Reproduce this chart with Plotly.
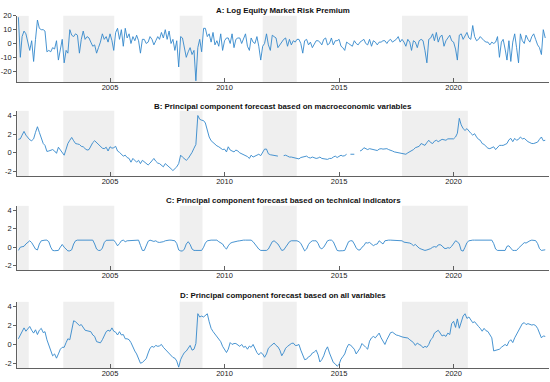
import plotly.graph_objects as go
import pandas as pd

# ---------------- data ----------------
START_MONTH = "2001-01-01"
N_MONTHS = 277
dates = pd.date_range(START_MONTH, periods=N_MONTHS, freq="MS")

equity_premium = [
    19, -10, 5, 9, 7, 0, -5, 2, -13, 3, 17, 11,
    10, 10, 9, -6, -5, -6, -3, -4, 2, -12, -4, 3,
    -14, -5, -7, 10, 6, 5, 7, 6, -7, 3, 9, 3,
    5, 4, 1, -2, -1, -7, -3, 1, 7, 3, 5, 1,
    7, 2, -5, 8, 11, 3, 10, -2, 11, 4, 7, 0,
    5, 2, 6, 2, -7, 3, 3, 0, 1, 5, 3, -1,
    2, 5, 3, 8, 4, 10, 3, 9, 0, 3, -5, 2,
    -17, 5, 4, -3, -10, -6, -3, -8, -5, -27, -3, 3,
    -6, 11, 11, 5, 7, 1, 8, -1, 2, -2, 7, -5,
    2, 4, 4, 0, 7, -3, 3, 4, 4, 0, 3, 7,
    -2, -5, 4, 1, 0, 5, -2, -12, -2, 0, 7, -1,
    -5, 6, 5, 4, -3, -1, 1, 3, 4, -2, 3, -1,
    2, 1, 3, 3, 0, -7, 2, 3, -1, 1, -3, 0,
    2, 2, 1, -1, 3, 4, -1, 0, 4, -1, 2, 2,
    3, -2, -3, -5, 1, 0, -1, -2, 2, 0, -1, 1,
    2, 3, 0, -1, 3, -2, 2, 1, -1, 1, 1, 2,
    2, 0, 2, 3, 1, 2, 3, 5, 1, 3, 1, -2,
    3, 1, -5, 2, 1, -3, 2, 3, 2, -5, -14, 3,
    4, 7, 2, 8, 1, 5, 6, -2, 2, 4, 6, 2,
    1, -4, -12, 6, 7, 3, 5, 8, 4, 3, 13, 5,
    2, 3, 5, 3, 2, 1, 1, -1, 1, 0, 1, 5,
    -10, 1, 3, -4, -12, 2, -13, 1, 7, -3, -14, 7,
    2, 0, 6, 3, 1, 5, 7, 3, -1, -3, -8, 10, 4,
]

macro_pc = [
    1.45, 1.5, 1.9, 2.3, 1.9, 1.6, 1.4, 1.3, 1.5, 2.2, 2.8, 2.2,
    1.6, 1.0, 0.8, 0.15, 0.2, 0.25, 0.35, 0.2, -0.05, 0.6, 0.3, 0.1,
    -0.25, 0.4, 1.0, 1.35, 1.65, 1.3, 1.0, 0.95, 0.9, 0.7, 0.65, 0.45,
    0.3, 0.35, 0.75, 1.1, 1.3, 1.1, 0.8, 0.7, 0.5, 0.45, 0.6, 0.2,
    0.65, 0.5, 0.55, 0.7, 0.2, 0.05, -0.15, -0.35, -0.25, -0.5, -0.6, -1.0,
    -0.6, -0.8, -1.0, -0.8, -1.15, -0.8, -1.0, -1.15, -1.3, -1.1, -0.9, -0.6,
    -0.9, -1.1, -1.15, -1.35, -1.5, -1.15, -1.3, -1.5, -1.7, -1.9, -1.7, -1.5,
    -1.15, -0.25, -0.45, -0.6, -0.8, -0.6, -0.3, 0.05, 0.5, 0.9, 4.0, 3.6,
    3.5, 3.45, 3.2, 2.5, 1.7, 1.3, 1.1, 0.95, 0.75, 0.65, 0.5, 0.35,
    0.4, 0.1, 0.65, 0.3, 0.2, 0.1, 0.3, 0.2, 0.0, -0.1, -0.2, -0.25,
    -0.4, -0.6, -0.25, -0.45, -0.35, -0.3, -0.15, -0.3, 0.1, 0.4, 0.4, -0.1,
    -0.2, -0.25, -0.25, -0.3, -0.35, None, None, -0.3, -0.25, -0.35, -0.45, -0.45,
    -0.5, -0.55, -0.6, -0.65, -0.5, -0.45, -0.4, -0.35, -0.5, -0.55, -0.45, -0.5,
    -0.6, -0.55, -0.45, -0.6, -0.65, -0.7, -0.7, -0.6, -0.6, -0.45, -0.35, -0.5,
    -0.35, -0.25, -0.35, -0.3, -0.15, None, -0.15, -0.15, -0.15, None, None, 0.2,
    0.3, 0.55, 0.45, 0.35, 0.45, 0.4, 0.35, 0.3, 0.25, 0.4, 0.45, 0.4,
    0.45, 0.45, 0.35, 0.3, 0.2, 0.1, 0.05, 0.0, -0.05, -0.05, -0.1, -0.15,
    0.0, 0.1, 0.2, 0.35, 0.55, 0.65, 0.7, 1.0, 0.9, 0.8, 1.1, 1.35,
    1.1, 1.0, 1.25, 1.35, 1.2, 1.3, 1.45, 1.4, 1.35, 1.5, 1.5, 1.45,
    1.5, 1.7, 2.1, 3.7, 3.0, 2.6, 2.4, 2.6, 2.3, 2.1, 1.9, 2.05,
    1.7, 1.45, 1.35, 1.0, 0.9, 0.65, 0.5, 0.45, 0.6, 0.65, 0.35, 0.6,
    0.8, 0.8, 0.8, 0.9, 1.0, 1.4, 1.55, 1.2, 1.55, 1.35, 1.45, 1.7,
    1.5, 1.55, 1.35, 1.2, 1.1, 1.0, 1.0, 1.05, 1.15, 1.45, 1.7, 1.3, 1.35,
]

tech_pc = [
    -0.35, 0.0, 0.05, 0.1, 0.35, 0.5, 0.7, 0.5, 0.2, -0.2, -0.3, 0.35,
    0.7, 0.77, 0.77, 0.77, 0.6, 0.0, -0.35, -0.38, -0.4, -0.35, 0.0, 0.3,
    0.0, -0.28, -0.4, -0.4, -0.28, 0.35, 0.7, 0.77, 0.77, 0.77, 0.77, 0.77,
    0.77, 0.77, 0.77, 0.77, 0.35, -0.2, -0.35, -0.35, -0.1, 0.5, 0.75, 0.77,
    0.77, 0.77, 0.77, 0.5, 0.15, 0.4, 0.7, 0.77, 0.6, 0.7, 0.7, 0.7,
    0.75, 0.77, 0.77, 0.77, 0.2, -0.35, -0.35, 0.2, 0.65, 0.77, 0.7, 0.63,
    0.7, 0.55, 0.52, 0.52, 0.6, 0.7, 0.77, 0.77, 0.77, 0.77, 0.7, 0.4,
    -0.3, -0.4, -0.42, -0.2, 0.35, 0.6, 0.3, -0.2, -0.35, -0.35, -0.35, -0.35,
    -0.35, 0.0, 0.45, 0.7, 0.77, 0.77, 0.77, 0.77, 0.77, 0.6, 0.45, 0.35,
    0.0, -0.2, 0.15, 0.42, 0.52, 0.6, 0.63, 0.67, 0.7, 0.77, 0.77, 0.77,
    0.77, 0.77, 0.77, 0.6, 0.3, 0.0, -0.2, -0.35, -0.35, -0.35, -0.35, -0.2,
    0.3, 0.6, 0.7, 0.5, 0.35, 0.0, -0.35, -0.3, 0.0, 0.2, 0.6, 0.7,
    0.7, 0.7, 0.7, 0.6, 0.42, 0.0, -0.4, -0.2, 0.3, 0.55, 0.7, 0.7,
    0.7, 0.4, -0.05, -0.17, 0.0, 0.35, 0.7, 0.77, 0.77, 0.6, 0.2, -0.35,
    -0.4, -0.42, -0.38, -0.35, 0.2, 0.6, 0.7, 0.7, 0.35, -0.07, -0.3, -0.3,
    0.0, 0.17, 0.5, 0.45, 0.52, 0.3, 0.17, 0.3, 0.35, 0.7, 0.5, 0.35,
    0.7, 0.77, 0.77, 0.77, 0.77, 0.77, 0.77, 0.77, 0.77, 0.7, 0.55, 0.52,
    0.52, 0.45, 0.35, 0.17, 0.3, 0.05, -0.1, -0.2, -0.3, -0.35, -0.3, -0.25,
    -0.15, 0.0, 0.07, 0.0, 0.25, 0.28, 0.15, -0.1, -0.15, -0.05, -0.1, 0.1,
    0.45, 0.7, 0.6, 0.35, -0.35, -0.42, 0.0, 0.5, 0.7, 0.77, 0.77, 0.77,
    0.77, 0.77, 0.77, 0.77, 0.77, 0.77, 0.77, 0.77, 0.77, 0.4, -0.2, -0.35,
    -0.35, -0.35, -0.35, -0.35, 0.1, 0.15, -0.1, -0.35, -0.35, -0.35, -0.1, 0.1,
    0.35, 0.5, 0.45, 0.6, 0.7, 0.77, 0.77, 0.72, 0.4, -0.15, -0.35, -0.3, -0.28,
]

all_pc = [
    0.6, 1.0, 1.3, 1.75, 1.4, 1.65, 1.9, 1.5, 1.2, 1.55, 1.05, 1.5,
    1.7, 1.25, 1.35, 0.5, 0.0, -0.5, -1.2, -1.0, -1.45, -1.0, -0.5, -0.3,
    -0.3, 0.2, 0.6, 0.5, 1.5, 2.5, 2.4, 2.2, 2.0, 2.1, 1.75, 1.5,
    1.45, 1.4, 1.35, 1.0, 0.85, 0.3, 0.27, 0.17, 0.5, 1.0, 1.35, 1.5,
    1.4, 1.75, 1.4, 1.3, 1.0, 1.35, 1.0, 1.05, 0.6, 0.6, 0.5, 0.2,
    -0.3, -0.7, -1.0, -1.5, -1.98, -1.9, -1.71, -1.5, -0.9, -0.4, -0.2, -0.3,
    -0.1, -0.2, -0.15, 0.0, -0.3, -0.5, -0.7, -0.9, -1.1, -1.37, -1.45, -1.75,
    -2.4, -1.6, -1.2, -0.85, -0.7, -0.35, -0.1, -0.6, -0.5, 0.1, 3.25, 2.9,
    3.0, 2.9, 3.1, 3.24, 2.4, 1.7, 1.37, 1.1, 0.75, 0.5, 0.3, -0.2,
    -0.6, -0.85, -0.5, 0.2, 0.0, 0.1, 0.1, -0.1, -0.2, 0.0, -0.3, -0.2,
    -0.5, -0.17, -0.3, 0.0, -0.5, -0.85, -1.1, -0.85, -1.0, -1.35, -1.0, -0.4,
    -0.2, 0.0, 0.15, -0.1, -0.25, -0.6, -1.19, -0.85, -0.4, -0.2, 0.0, 0.1,
    0.15, -0.1, -0.1, 0.0, -0.6, -1.1, -1.6, -1.55, -1.3, -1.2, -0.9, -0.8,
    -0.6, -1.1, -1.85, -1.6, -1.2, -0.6, -0.25, -0.9, -1.5, -1.9, -2.05, -2.3,
    -2.1, -1.55, -1.3, -1.0, -0.4, 0.0, -0.05, -0.3, -0.5, -1.0, -0.7, -0.4,
    0.1, -0.15, -0.3, -0.5, 0.35, 0.7, 0.85, 0.7, 1.0, 1.2, 0.7, 0.3,
    0.0, 0.5, 0.9, 1.25, 1.3, 1.1, 1.0, 0.95, 0.85, 0.8, 0.75, 0.7,
    0.68, 0.5, 0.34, 0.2, -0.1, 0.15, 0.0, -0.1, -0.35, -0.2, -0.3, 0.0,
    0.5, 0.7, 1.2, 1.4, 1.5, 1.2, 0.9, 1.0, 0.85, 1.2, 1.05, 2.2,
    2.45, 1.8, 2.7, 1.71, 2.5, 3.0, 3.24, 2.75, 2.9, 2.6, 2.3, 2.4,
    2.2, 1.9, 1.7, 1.4, 1.7, 1.45, 1.37, 1.1, 0.7, -0.68, -0.6, -0.6,
    -0.5, -0.3, -0.17, 0.0, -0.15, 0.3, 0.5, 0.2, 0.7, 1.1, 1.35, 1.9,
    2.2, 2.3, 2.1, 2.2, 2.1, 2.05, 2.1, 2.0, 1.7, 1.2, 0.7, 0.9, 0.85,
]

shade_start = ["2000-12-15", "2002-12-18", "2008-01-18", "2011-09-01", "2017-10-01"]
shade_end = ["2001-06-15", "2005-03-10", "2009-01-15", "2013-02-25", "2020-08-15"]

panel_titles = [
    "A: Log Equity Market Risk Premium",
    "B: Principal component forecast based on macroeconomic variables",
    "C: Principal component forecast based on technical indicators",
    "D: Principal component forecast based on all variables",
]
year_ticks = ["2005", "2010", "2015", "2020"]
yticks_a = [-20, -10, 0, 10, 20]
yticks_pc = [-2, 0, 2, 4]
yrange_a = [-28, 20]
yrange_pc = [-2.5, 4.5]

series = [equity_premium, macro_pc, tech_pc, all_pc]
for s in series:
    if len(s) != N_MONTHS:
        raise ValueError([len(t) for t in series])

# ---------------- layout ----------------
W, H = 550, 382
x_dom = [17 / W, 549 / W]
panel_px = [(12, 79), (108, 174), (204, 269), (301, 368)]  # top, bottom
title_px = [7, 104, 199, 295]

LINE = "#3388cc"
SHADE = "#efefef"
AX = "#3a3a3a"
FONT = "Liberation Sans, Arial, Helvetica, sans-serif"

fig = go.Figure()
layout = dict(
    width=W, height=H,
    margin=dict(l=0, r=0, t=0, b=0),
    paper_bgcolor="white", plot_bgcolor="white",
    showlegend=False,
    font=dict(family=FONT, size=7.5, color="#222222"),
    shapes=[], annotations=[],
)

for i, vals in enumerate(series):
    k = "" if i == 0 else str(i + 1)
    top, bot = panel_px[i]
    fig.add_trace(go.Scatter(
        x=dates, y=vals, mode="lines", xaxis="x" + k, yaxis="y" + k,
        line=dict(color=LINE, width=0.9), connectgaps=False,
        hoverinfo="skip",
    ))
    if i == 0:
        yr, yt = yrange_a, yticks_a
    else:
        yr, yt = yrange_pc, yticks_pc
    layout["xaxis" + k] = dict(
        domain=x_dom, anchor="y" + k, type="date",
        range=["2000-12-10", "2024-03-01"],
        tickvals=[y + "-01-01" for y in year_ticks], ticktext=year_ticks,
        ticks="inside", ticklen=4, tickwidth=0.8, tickcolor=AX,
        showline=True, linecolor=AX, linewidth=0.8,
        showgrid=False, zeroline=False,
        tickfont=dict(size=7.5, color="#222222"),
        ticklabelstandoff=-2,
    )
    layout["yaxis" + k] = dict(
        domain=[1 - bot / H, 1 - top / H], anchor="x" + k,
        range=yr, tickvals=yt, ticktext=[str(v) for v in yt],
        ticks="outside", ticklen=3, tickwidth=0.8, tickcolor=AX,
        showline=True, linecolor=AX, linewidth=0.8,
        showgrid=False, zeroline=False,
        tickfont=dict(size=7.5, color="#222222"),
    )
    for s0, s1 in zip(shade_start, shade_end):
        layout["shapes"].append(dict(
            type="rect", xref="x" + k, yref="y" + k + " domain",
            x0=s0, x1=s1, y0=0, y1=1, fillcolor=SHADE,
            line=dict(width=0), layer="below",
        ))
    layout["annotations"].append(dict(
        text="<b>" + panel_titles[i] + "</b>", xref="paper", yref="paper",
        x=(x_dom[0] + x_dom[1]) / 2, y=1 - title_px[i] / H,
        xanchor="center", yanchor="middle", showarrow=False,
        font=dict(size=7.9, color="#111111", family=FONT),
    ))

fig.update_layout(**layout)
fig.write_html(
    "out.html",
    config={"displayModeBar": False, "staticPlot": True},
    post_script="document.body.style.margin='0px';document.body.style.overflow='hidden';",
)
